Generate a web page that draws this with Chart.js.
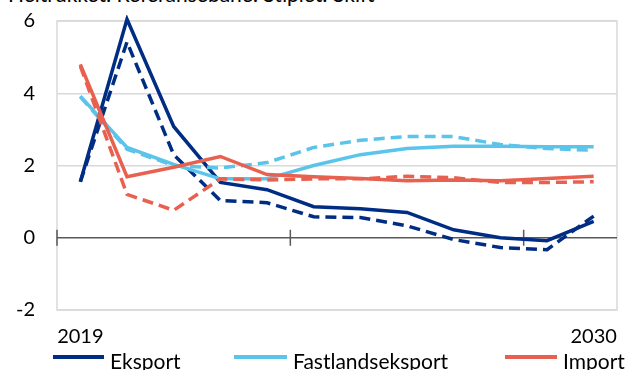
<!DOCTYPE html>
<html>
<head>
<meta charset="utf-8">
<script src="https://cdn.jsdelivr.net/npm/chart.js"></script>
<style>
  html, body { margin: 0; padding: 0; background: #fff; overflow: hidden; }
  body { width: 630px; height: 370px; position: relative; font-family: Lato, "Liberation Sans", sans-serif; color: #000; }
  #wrap { position: absolute; left: 0; top: 0; width: 630px; height: 370px; }
  .title { position: absolute; left: 8px; top: -16px; font-size: 21px; line-height: 20px; white-space: nowrap; }
  .lg-line { position: absolute; height: 4px; top: 355px; }
  .lg-text { position: absolute; top: 351px; font-size: 21px; line-height: 20px; white-space: nowrap; }
</style>
</head>
<body>
<div class="title">Heltrukket: Referansebane. Stiplet: Skift</div>
<div id="wrap"><canvas id="chart"></canvas></div>
<div class="lg-line" style="left:53px;width:51px;background:#002D84"></div>
<div class="lg-text" style="left:110px">Eksport</div>
<div class="lg-line" style="left:234px;width:53px;background:#5BC4EA"></div>
<div class="lg-text" style="left:293px">Fastlandseksport</div>
<div class="lg-line" style="left:505px;width:52px;background:#E8604F"></div>
<div class="lg-text" style="left:563px">Import</div>
<script>
// 年份
const years = ['2019', '2020', '2021', '2022', '2023', '2024', '2025', '2026', '2027', '2028', '2029', '2030'];

// referansebane (heltrukket)
const eksport = [1.55, 6.05, 3.08, 1.53, 1.33, 0.86, 0.8, 0.7, 0.22, 0.0, -0.08, 0.45];
const fastlandseksport = [3.92, 2.5, 2.03, 1.63, 1.63, 2.0, 2.3, 2.47, 2.53, 2.53, 2.52, 2.52];
const importRef = [4.8, 1.69, 1.95, 2.25, 1.75, 1.69, 1.64, 1.58, 1.6, 1.58, 1.64, 1.7];

// skift (stiplet)
const eksportSkift = [1.55, 5.42, 2.3, 1.03, 0.97, 0.58, 0.56, 0.33, -0.05, -0.27, -0.33, 0.6];
const fastlandseksportSkift = [3.9, 2.45, 2.0, 1.93, 2.08, 2.5, 2.7, 2.8, 2.8, 2.58, 2.47, 2.42];
const importSkift = [4.75, 1.2, 0.76, 1.63, 1.6, 1.63, 1.63, 1.7, 1.66, 1.53, 1.53, 1.55];

const yTicks = [-2, 0, 2, 4, 6];

const NAVY = '#002D84';
const LIGHT = '#5BC4EA';
const RED = '#E8604F';
const DASH = [11, 6];

Chart.defaults.font.family = 'Lato, "Liberation Sans", sans-serif';
Chart.defaults.font.size = 20;
Chart.defaults.color = '#000';

// 边框、零线和刻度
const framePlugin = {
    id: 'frame',
    beforeDatasetsDraw(chart) {
        const { ctx, chartArea: a, scales } = chart;
        const x = scales.x, y = scales.y;
        ctx.save();
        ctx.strokeStyle = '#D9D9D9';
        ctx.lineWidth = 1.5;
        ctx.strokeRect(a.left, a.top, a.right - a.left, a.bottom - a.top);
        const y0 = y.getPixelForValue(0);
        ctx.strokeStyle = '#595959';
        ctx.lineWidth = 1.5;
        ctx.beginPath();
        ctx.moveTo(a.left, y0);
        ctx.lineTo(a.right, y0);
        const step = (x.getPixelForValue(1) - x.getPixelForValue(0));
        for (let i = 0; i < years.length; i += 5) {
            const px = x.getPixelForValue(i) - step / 2;
            ctx.moveTo(px, y0 - 8);
            ctx.lineTo(px, y0 + 8);
        }
        ctx.stroke();
        ctx.restore();
    }
};

function series(label, data, color, dashed) {
    return {
        label: label,
        data: data,
        borderColor: color,
        backgroundColor: color,
        borderWidth: 3.5,
        borderDash: dashed ? DASH : [],
        pointRadius: 0,
        tension: 0,
        fill: false,
        clip: 6
    };
}

new Chart(document.getElementById('chart'), {
    type: 'line',
    data: {
        labels: years,
        datasets: [
            series('Import skift', importSkift, RED, true),
            series('Import', importRef, RED, false),
            series('Fastlandseksport skift', fastlandseksportSkift, LIGHT, true),
            series('Fastlandseksport', fastlandseksport, LIGHT, false),
            series('Eksport skift', eksportSkift, NAVY, true),
            series('Eksport', eksport, NAVY, false)
        ]
    },
    options: {
        responsive: true,
        maintainAspectRatio: false,
        animation: false,
        layout: { padding: { top: 21, right: 13, bottom: 0, left: 0 } },
        plugins: {
            legend: { display: false },
            tooltip: { enabled: false }
        },
        scales: {
            x: {
                offset: true,
                grid: { display: false, drawTicks: false },
                border: { display: false },
                ticks: {
                    autoSkip: false,
                    maxRotation: 0,
                    padding: 15,
                    callback: (v, i) => (i === 0 || i === years.length - 1) ? years[i] : ''
                },
                afterFit: s => { s.height = 60; s.paddingLeft = 0; s.paddingRight = 0; }
            },
            y: {
                min: -2,
                max: 6,
                afterBuildTicks: s => { s.ticks = yTicks.map(v => ({ value: v })); },
                grid: {
                    drawTicks: false,
                    lineWidth: 1.5,
                    color: c => c.tick && c.tick.value === 0 ? 'rgba(0,0,0,0)' : '#D9D9D9'
                },
                border: { display: false },
                ticks: { padding: 22 },
                afterFit: s => { s.width = 57; s.paddingTop = 0; s.paddingBottom = 0; }
            }
        }
    },
    plugins: [framePlugin]
});
</script>
</body>
</html>
